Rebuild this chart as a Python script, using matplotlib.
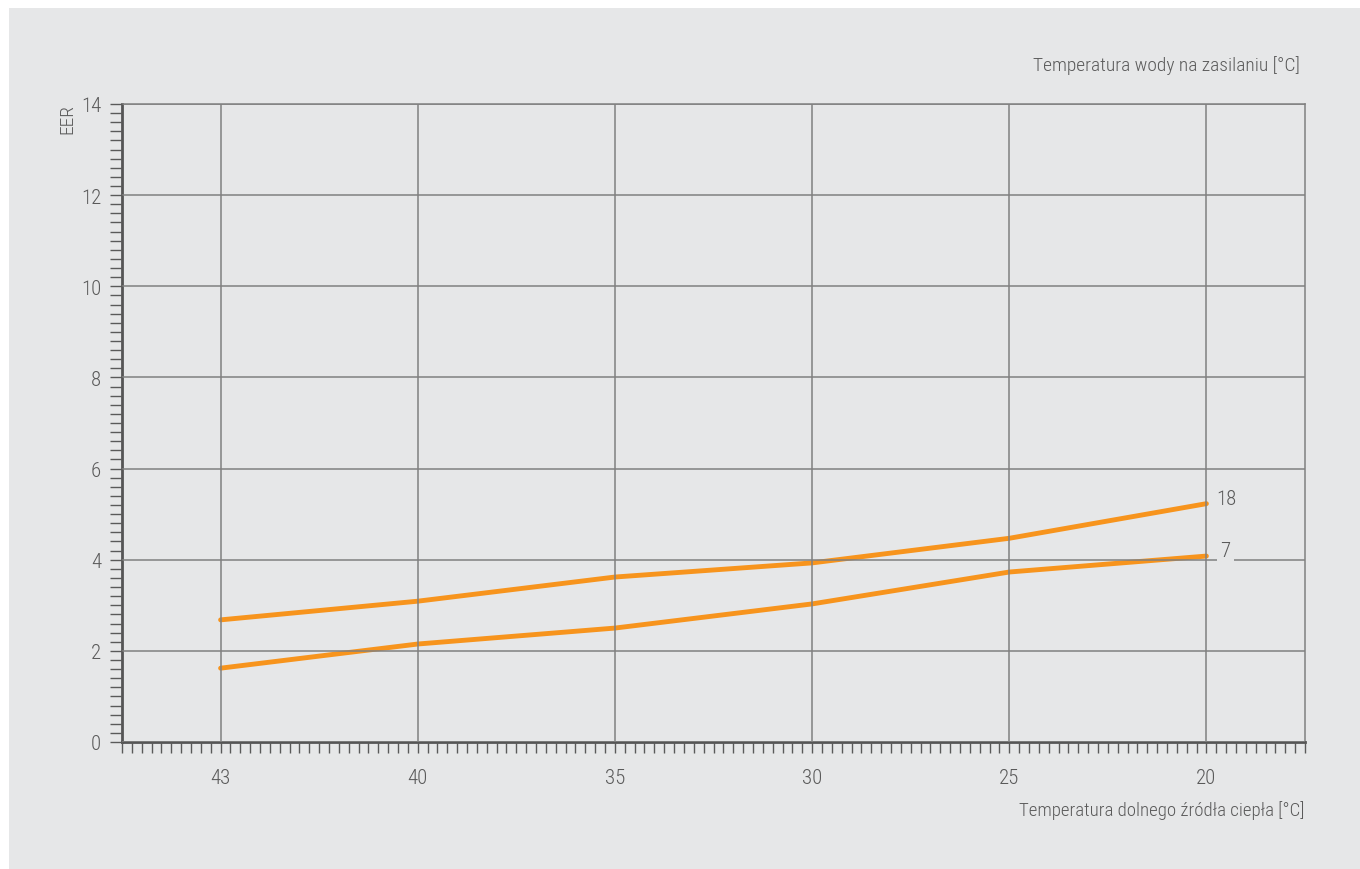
import matplotlib
matplotlib.use("Agg")
import matplotlib.pyplot as plt
from matplotlib.patches import Rectangle
from matplotlib.ticker import MultipleLocator
from matplotlib import font_manager

# ---- data ----
categories = ["43", "40", "35", "30", "25", "20"]
eer_18 = [2.68, 3.09, 3.62, 3.93, 4.47, 5.23]
eer_7 = [1.62, 2.15, 2.50, 3.03, 3.73, 4.08]
series_labels = ["18", "7"]
y_ticks = [0, 2, 4, 6, 8, 10, 12, 14]

# ---- font ----
names = {f.name for f in font_manager.fontManager.ttflist}
fam = [f for f in ["Liberation Sans Narrow", "Roboto Condensed", "Roboto", "DejaVu Sans"] if f in names]
plt.rcParams['font.family'] = fam
plt.rcParams['font.weight'] = 300

BG = "#e6e7e8"
TXT = "#5a5a5a"
ORANGE = "#f7941d"
GRID = "#808080"

fig = plt.figure(figsize=(13.6, 8.7), dpi=100)
fig.patch.set_facecolor("white")
fig.add_artist(Rectangle((9/1360, 0), 1 - 9/1360, 1 - 9/870, transform=fig.transFigure,
                         facecolor=BG, edgecolor="none", zorder=0))

ax = fig.add_axes([122/1360, 1 - 743/870, (1305-122)/1360, (743-105)/870])
ax.set_facecolor(BG)

x = list(range(len(categories)))
ax.plot(x, eer_18, color=ORANGE, lw=3.5, solid_capstyle="round", zorder=2)
ax.plot(x, eer_7, color=ORANGE, lw=3.5, solid_capstyle="round", zorder=2)
ax.set_axisbelow(False)

ax.set_xlim(-0.5, len(categories) - 0.5)
ax.set_ylim(0, 14)
ax.set_xticks(x)
ax.set_xticklabels(categories)
ax.set_yticks(y_ticks)
ax.set_yticklabels([str(v) for v in y_ticks])
ax.xaxis.set_minor_locator(MultipleLocator(0.05))
ax.yaxis.set_minor_locator(MultipleLocator(0.2))

ax.grid(True, which="major", color=GRID, lw=1.1)
ax.tick_params(axis="both", which="both", direction="out", color=TXT, width=1.0,
               labelcolor=TXT, labelsize=15)
ax.tick_params(axis="x", which="both", length=8, pad=11)
ax.tick_params(axis="y", which="both", length=9, pad=6)

for s in ["top", "right"]:
    ax.spines[s].set_color(GRID)
    ax.spines[s].set_linewidth(1.1)
for s in ["left", "bottom"]:
    ax.spines[s].set_color("#555555")
    ax.spines[s].set_linewidth(2.0)

# series labels at the end of lines
ax.annotate(series_labels[0], (x[-1], eer_18[-1]), xytext=(7, 3.6), textcoords="offset points",
            ha="left", va="center", fontsize=15, color=TXT)
ax.annotate(series_labels[1], (x[-1], eer_7[-1]), xytext=(10, 4), textcoords="offset points",
            ha="left", va="center", fontsize=15, color=TXT,
            bbox=dict(boxstyle="square,pad=0.15", facecolor=BG, edgecolor="none"), zorder=5)

fig.text(67/1360, 1 - 104/870, "EER", rotation=90, ha="center", va="top", fontsize=14, color=TXT)
fig.text(1300/1360, 1 - 66/870, "Temperatura wody na zasilaniu [°C]", ha="right", va="center",
         fontsize=14, color=TXT)
fig.text(1304/1360, 1 - 811/870, "Temperatura dolnego źródła ciepła [°C]", ha="right", va="center",
         fontsize=13.6, color=TXT)

fig.savefig("out.png", dpi=100, facecolor="white")
